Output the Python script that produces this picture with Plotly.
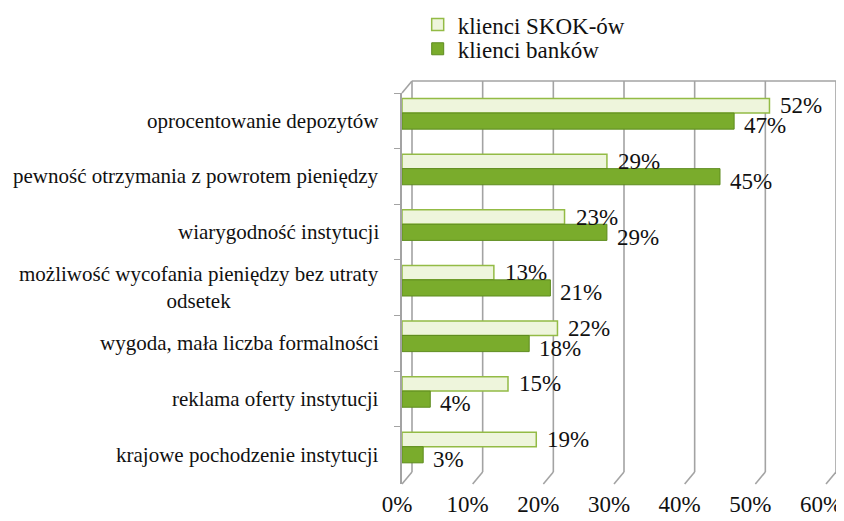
import plotly.graph_objects as go

categories = [
    "oprocentowanie depozytów",
    "pewność otrzymania z powrotem pieniędzy",
    "wiarygodność instytucji",
    "możliwość wycofania pieniędzy bez utraty<br>odsetek",
    "wygoda, mała liczba formalności",
    "reklama oferty instytucji",
    "krajowe pochodzenie instytucji",
]
skok = [52, 29, 23, 13, 22, 15, 19]
banki = [47, 45, 29, 21, 18, 4, 3]
x_ticks = [0, 10, 20, 30, 40, 50, 60]

FONT = "Liberation Serif"
GRID = "#a3a3a3"
X_MAX = 60
PLOT_W, PLOT_H = 424, 391
DEPTH_X, DEPTH_Y = 10, 12  # fake 3D wall depth in px

fig = go.Figure()
# bars sit a bit above the category centre (3D look of the original)
fig.add_trace(go.Bar(
    y=categories, x=skok, orientation="h", name="klienci SKOK-ów",
    offset=-0.40, width=0.26, legend="legend",
    marker=dict(color="#eef5dc", line=dict(color="#93bb45", width=1.5)),
))
fig.add_trace(go.Bar(
    y=categories, x=banki, orientation="h", name="klienci banków",
    offset=-0.14, width=0.29, legend="legend2",
    marker=dict(color="#7aac2c", line=dict(color="#5e8c1f", width=1)),
))

# value labels
for c, v in zip(categories, skok):
    fig.add_annotation(x=v, y=c, text=f"{v}%", showarrow=False, xanchor="left",
                       xshift=9, yshift=15, font=dict(family=FONT, size=23, color="#111"))
for c, v in zip(categories, banki):
    fig.add_annotation(x=v, y=c, text=f"{v}%", showarrow=False, xanchor="left",
                       xshift=8, yshift=-5, font=dict(family=FONT, size=23, color="#111"))

# category labels, centred lines like the original
for c in categories:
    fig.add_annotation(
        x=0, xref="paper", y=c, yref="y", text=c, showarrow=False,
        xanchor="right", align="center", xshift=-21,
        font=dict(family=FONT, size=21, color="#111"),
    )

# back wall gridlines with slanted floor edges
line = dict(color=GRID, width=1.6)
for t in x_ticks:
    xa = t / X_MAX
    fig.add_shape(type="line", xref="paper", yref="paper", layer="below",
                  xsizemode="pixel", xanchor=xa, x0=DEPTH_X, x1=DEPTH_X,
                  ysizemode="pixel", yanchor=0, y0=DEPTH_Y, y1=PLOT_H + DEPTH_Y,
                  line=line)
    fig.add_shape(type="line", xref="paper", yref="paper", layer="below",
                  xsizemode="pixel", xanchor=xa, x0=DEPTH_X, x1=0,
                  ysizemode="pixel", yanchor=0, y0=DEPTH_Y, y1=0,
                  line=line)
# top edge and top-left corner of the wall
fig.add_shape(type="line", xref="paper", yref="paper", layer="below",
              xsizemode="pixel", xanchor=0, x0=0, x1=DEPTH_X,
              ysizemode="pixel", yanchor=1, y0=0, y1=DEPTH_Y,
              line=line)
fig.add_shape(type="line", xref="paper", yref="paper", layer="below",
              xsizemode="pixel", xanchor=0, x0=DEPTH_X, x1=PLOT_W + DEPTH_X,
              ysizemode="pixel", yanchor=1, y0=DEPTH_Y, y1=DEPTH_Y,
              line=line)

legend_style = dict(
    x=0.037, xanchor="left", yanchor="middle",
    font=dict(family=FONT, size=23), itemwidth=30,
    bgcolor="rgba(0,0,0,0)",
)
fig.update_layout(
    width=844, height=521,
    margin=dict(l=394, r=844 - 394 - PLOT_W, t=85, b=45, autoexpand=False),
    paper_bgcolor="white", plot_bgcolor="white",
    barmode="overlay",
    font=dict(family=FONT, color="#111"),
    legend=dict(y=1.175, **legend_style),
    legend2=dict(y=1.113, **legend_style),
    showlegend=True,
)
fig.update_xaxes(
    range=[0, X_MAX], tickvals=x_ticks, ticktext=[f"{t}%" for t in x_ticks],
    showgrid=False, zeroline=False, showline=False,
    tickfont=dict(family=FONT, size=23), ticks="",
    ticklabelshift=-5, ticklabelstandoff=4, ticklabeloverflow="allow",
)
fig.update_yaxes(
    autorange="reversed", showticklabels=False, tickson="boundaries",
    ticks="outside", ticklen=6, tickcolor=GRID, showgrid=False,
    showline=True, linecolor=GRID, linewidth=1.6,
)

fig.write_html("out.html")
